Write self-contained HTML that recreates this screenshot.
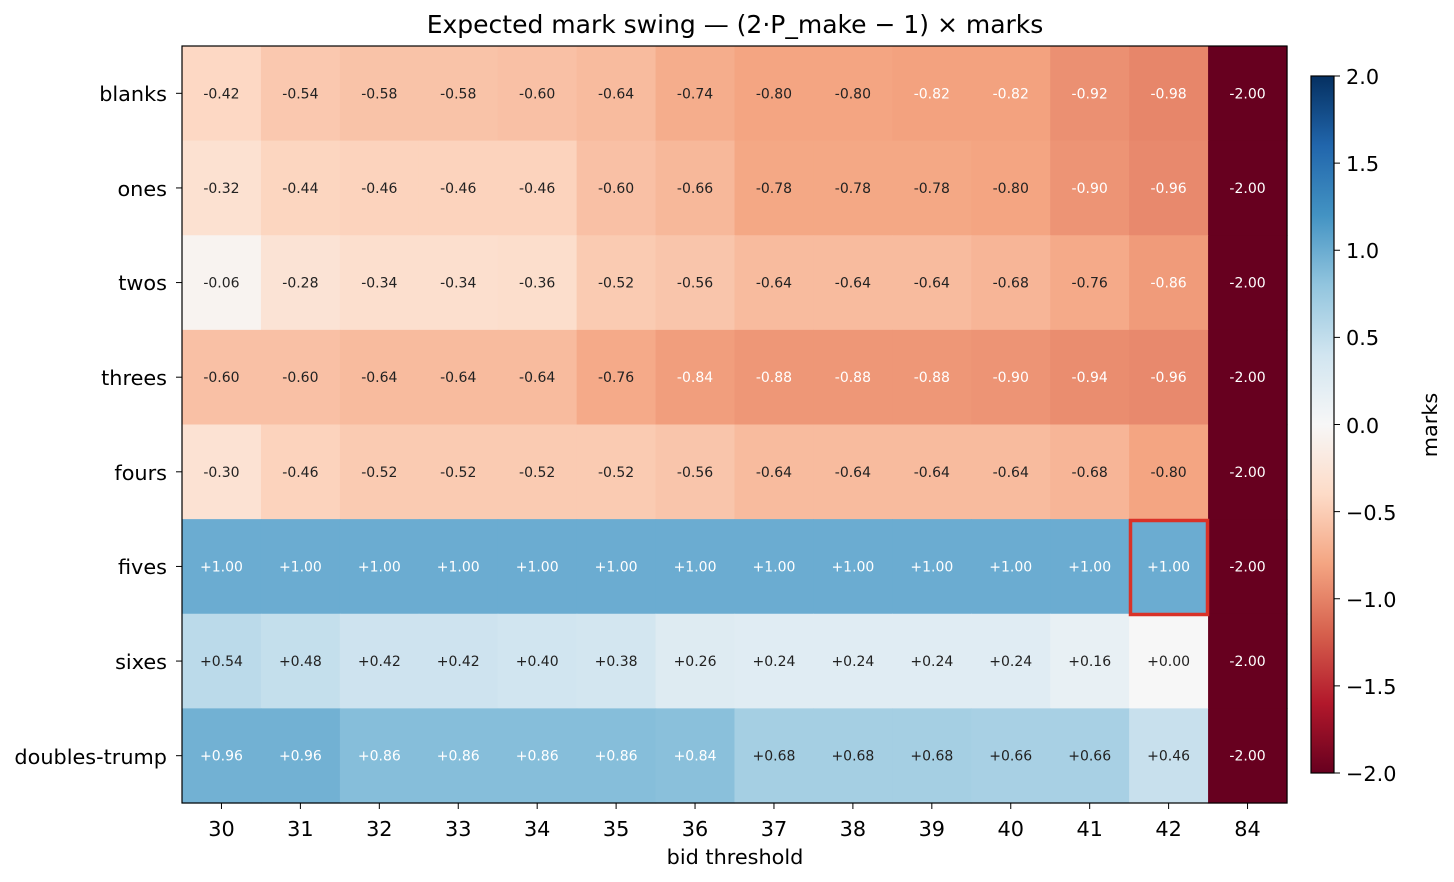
<!DOCTYPE html>
<html><head><meta charset="utf-8"><style>
body{margin:0;background:#fff}
svg{display:block;font-family:"DejaVu Sans","Liberation Sans",sans-serif}
.c text{font-size:14px;text-anchor:middle}
</style></head><body>
<svg id="s" width="1454" height="882" viewBox="0 0 1454 882">
<defs><linearGradient id="g" x1="0" y1="1" x2="0" y2="0">
<stop offset="0" stop-color="#67001f"/><stop offset="0.1" stop-color="#b2182b"/><stop offset="0.2" stop-color="#d6604d"/><stop offset="0.3" stop-color="#f4a582"/><stop offset="0.4" stop-color="#fddbc7"/><stop offset="0.5" stop-color="#f7f7f7"/><stop offset="0.6" stop-color="#d1e5f0"/><stop offset="0.7" stop-color="#92c5de"/><stop offset="0.8" stop-color="#4393c3"/><stop offset="0.9" stop-color="#2166ac"/><stop offset="1" stop-color="#053061"/></linearGradient></defs>
<text x="735" y="33" font-size="25" text-anchor="middle">Expected mark swing — (2·P_make − 1) × marks</text>
<g id="cells"></g>
<g class="c" id="t">
<g><text>-0.42</text><text>-0.54</text><text>-0.58</text><text>-0.58</text><text>-0.60</text><text>-0.64</text><text>-0.74</text><text>-0.80</text><text>-0.80</text><text>-0.82</text><text>-0.82</text><text>-0.92</text><text>-0.98</text><text>-2.00</text></g>
<g><text>-0.32</text><text>-0.44</text><text>-0.46</text><text>-0.46</text><text>-0.46</text><text>-0.60</text><text>-0.66</text><text>-0.78</text><text>-0.78</text><text>-0.78</text><text>-0.80</text><text>-0.90</text><text>-0.96</text><text>-2.00</text></g>
<g><text>-0.06</text><text>-0.28</text><text>-0.34</text><text>-0.34</text><text>-0.36</text><text>-0.52</text><text>-0.56</text><text>-0.64</text><text>-0.64</text><text>-0.64</text><text>-0.68</text><text>-0.76</text><text>-0.86</text><text>-2.00</text></g>
<g><text>-0.60</text><text>-0.60</text><text>-0.64</text><text>-0.64</text><text>-0.64</text><text>-0.76</text><text>-0.84</text><text>-0.88</text><text>-0.88</text><text>-0.88</text><text>-0.90</text><text>-0.94</text><text>-0.96</text><text>-2.00</text></g>
<g><text>-0.30</text><text>-0.46</text><text>-0.52</text><text>-0.52</text><text>-0.52</text><text>-0.52</text><text>-0.56</text><text>-0.64</text><text>-0.64</text><text>-0.64</text><text>-0.64</text><text>-0.68</text><text>-0.80</text><text>-2.00</text></g>
<g><text>+1.00</text><text>+1.00</text><text>+1.00</text><text>+1.00</text><text>+1.00</text><text>+1.00</text><text>+1.00</text><text>+1.00</text><text>+1.00</text><text>+1.00</text><text>+1.00</text><text>+1.00</text><text>+1.00</text><text>-2.00</text></g>
<g><text>+0.54</text><text>+0.48</text><text>+0.42</text><text>+0.42</text><text>+0.40</text><text>+0.38</text><text>+0.26</text><text>+0.24</text><text>+0.24</text><text>+0.24</text><text>+0.24</text><text>+0.16</text><text>+0.00</text><text>-2.00</text></g>
<g><text>+0.96</text><text>+0.96</text><text>+0.86</text><text>+0.86</text><text>+0.86</text><text>+0.86</text><text>+0.84</text><text>+0.68</text><text>+0.68</text><text>+0.68</text><text>+0.66</text><text>+0.66</text><text>+0.46</text><text>-2.00</text></g>
</g>
<rect x="1130.5" y="520.5" width="77" height="94" fill="none" stroke="#d93228" stroke-width="3.5"/>
<rect x="182" y="46" width="1105" height="757" fill="none" stroke="#000" stroke-width="1.2"/>
<g font-size="20.8" text-anchor="end">
<text x="167" y="101">blanks</text><text x="167" y="196">ones</text><text x="167" y="290">twos</text><text x="167" y="385">threes</text><text x="167" y="480">fours</text><text x="167" y="574">fives</text><text x="167" y="669">sixes</text><text x="167" y="764">doubles-trump</text>
</g>
<g id="yt" stroke="#000"></g>
<g id="xl" font-size="20.8" text-anchor="middle">
<text>30</text><text>31</text><text>32</text><text>33</text><text>34</text><text>35</text><text>36</text><text>37</text><text>38</text><text>39</text><text>40</text><text>41</text><text>42</text><text>84</text>
</g>
<text x="735" y="864" font-size="20.8" text-anchor="middle">bid threshold</text>
<rect x="1311" y="76" width="23" height="697" fill="url(#g)" stroke="#000" stroke-width="1.2"/>
<g font-size="20.8" id="cb">
<text x="1346" y="84">2.0</text><text x="1346" y="171">1.5</text><text x="1346" y="258">1.0</text><text x="1346" y="345">0.5</text><text x="1346" y="433">0.0</text><text x="1346" y="520">−0.5</text><text x="1346" y="607">−1.0</text><text x="1346" y="694">−1.5</text><text x="1346" y="781">−2.0</text>
</g>
<text transform="translate(1437,425) rotate(-90)" font-size="20.8" text-anchor="middle">marks</text>
</svg>
<script>
var S="http://www.w3.org/2000/svg";
var st=[[103,0,31],[178,24,43],[214,96,77],[244,165,130],[253,219,199],[247,247,247],[209,229,240],[146,197,222],[67,147,195],[33,102,172],[5,48,97]];
function col(v){var t=(v+2)/4*10;if(t<0)t=0;if(t>10)t=10;var i=Math.min(9,Math.floor(t)),f=t-i;var a=st[i],b=st[i+1];return "rgb("+[0,1,2].map(function(k){return Math.round(a[k]+(b[k]-a[k])*f)}).join(",")+")";}
var x0=182,w=1105/14,y0=46,h=757/8,cells=document.getElementById("cells");
var rows=document.getElementById("t").children;
for(var r=0;r<8;r++){var ts=rows[r].children;for(var c=0;c<14;c++){var tx=ts[c],v=parseFloat(tx.textContent);
var re=document.createElementNS(S,"rect");re.setAttribute("x",x0+c*w);re.setAttribute("y",y0+r*h);re.setAttribute("width",w+0.6);re.setAttribute("height",h+0.6);re.setAttribute("fill",col(v));cells.appendChild(re);
tx.setAttribute("x",x0+(c+0.5)*w);tx.setAttribute("y",y0+(r+0.5)*h+5);tx.setAttribute("fill",Math.abs(v)>0.81?"#fff":"#222");}}
var xl=document.getElementById("xl").children,yt=document.getElementById("yt");
for(var c=0;c<14;c++){var cx=x0+(c+0.5)*w;xl[c].setAttribute("x",cx);xl[c].setAttribute("y",836);
var l=document.createElementNS(S,"line");l.setAttribute("x1",cx);l.setAttribute("x2",cx);l.setAttribute("y1",803);l.setAttribute("y2",809);yt.appendChild(l);}
for(var r=0;r<8;r++){var cy=y0+(r+0.5)*h;var l=document.createElementNS(S,"line");l.setAttribute("x1",176);l.setAttribute("x2",182);l.setAttribute("y1",cy);l.setAttribute("y2",cy);yt.appendChild(l);}
for(var k=0;k<9;k++){var cy=76+k*697/8;var l=document.createElementNS(S,"line");l.setAttribute("x1",1334);l.setAttribute("x2",1340);l.setAttribute("y1",cy);l.setAttribute("y2",cy);yt.appendChild(l);}
</script>
</body></html>
